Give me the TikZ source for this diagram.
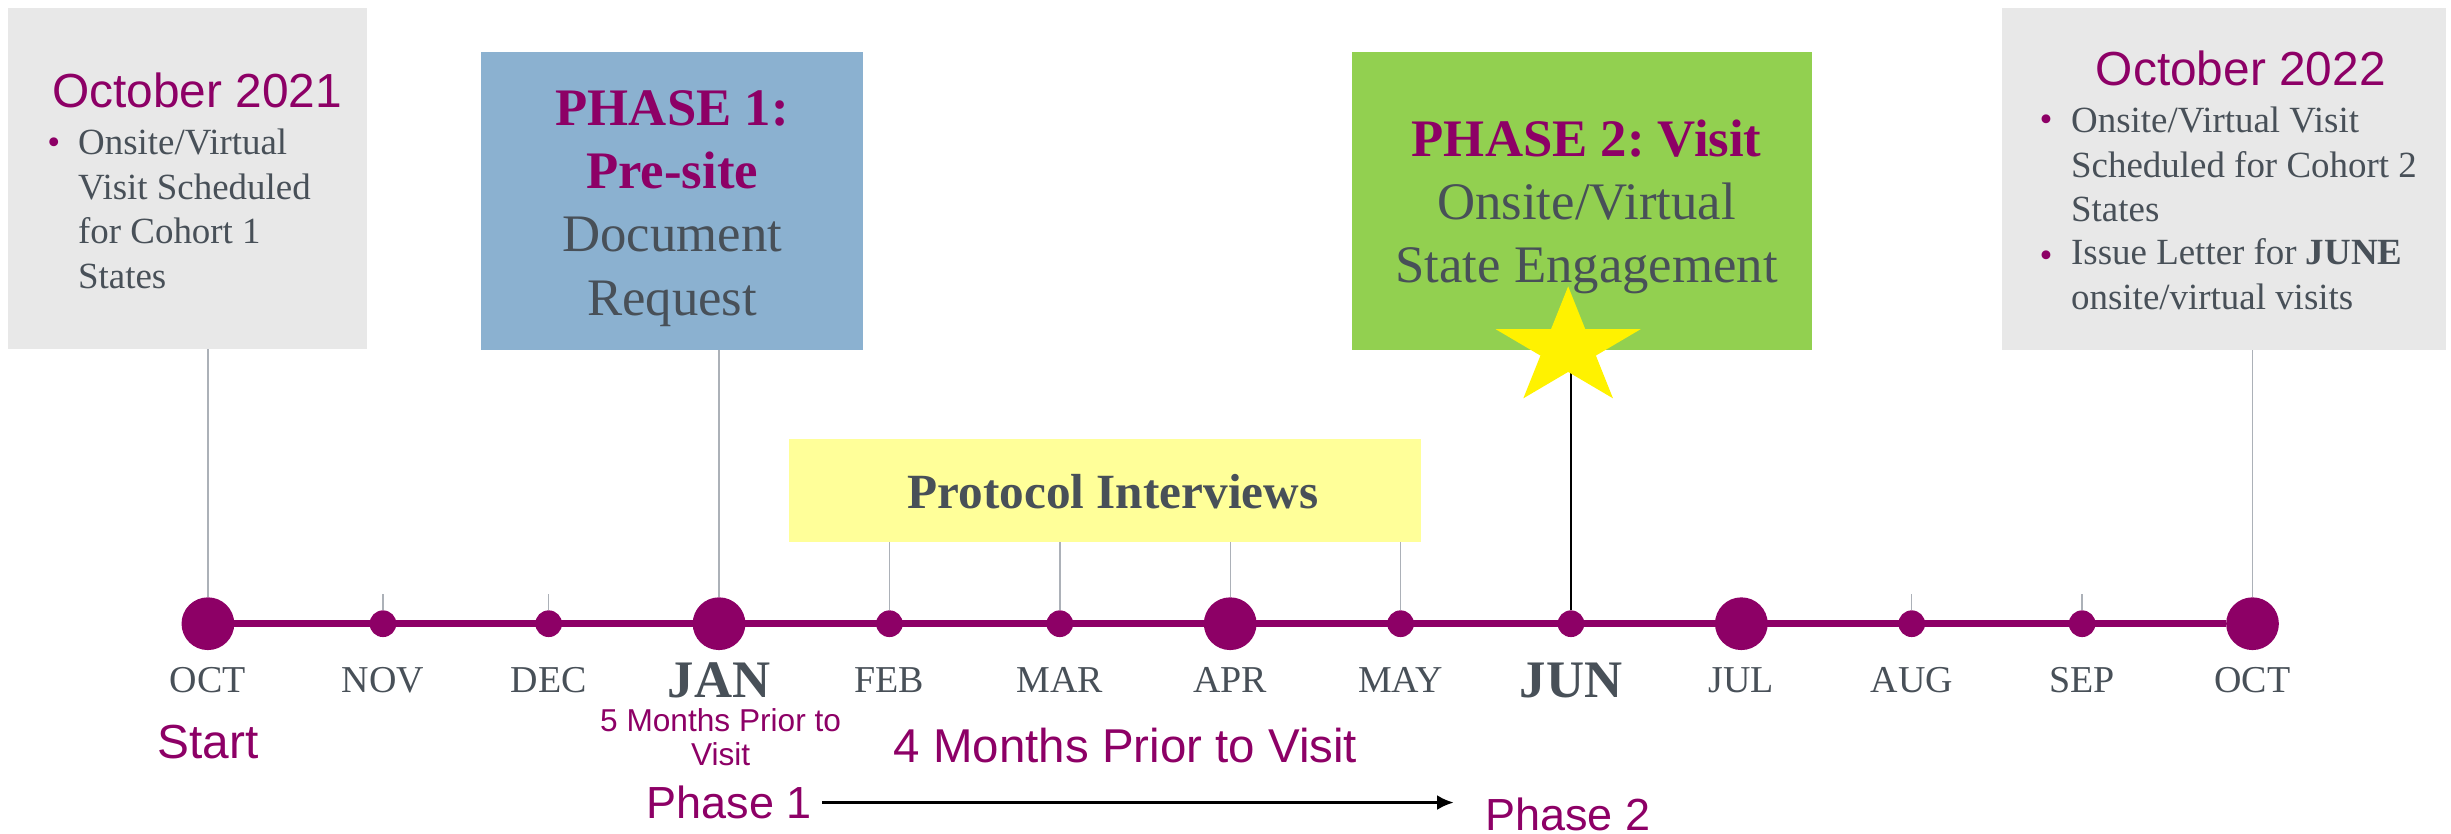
\documentclass[tikz,border=0pt]{standalone}
\usepackage[svgnames]{xcolor}
\usepackage{fontspec}
\setmainfont{Liberation Serif}
\setsansfont{Liberation Sans}
\usepackage{tikz}
\usetikzlibrary{arrows.meta,shapes.geometric}
\frenchspacing

\definecolor{Berry}{RGB}{141,0,102}
\definecolor{Slate}{RGB}{72,80,88}
\definecolor{Panel}{RGB}{232,232,232}
\definecolor{Sky}{RGB}{139,177,208}
\definecolor{Leaf}{RGB}{146,208,80}
\definecolor{Butter}{RGB}{255,255,153}
\definecolor{Rule}{RGB}{172,177,184}

\begin{document}
\begin{tikzpicture}[x=0.015625cm, y=-0.015625cm,
      every node/.append style={outer sep=0pt},
      link/.style={draw=Rule, line width=0.4pt}]
    \tikzstyle{panel} = [rectangle, inner sep=0pt]
    \tikzstyle{big dot} = [circle, fill=Berry, minimum size=15pt, inner sep=0pt]
    \tikzstyle{small dot} = [circle, fill=Berry, minimum size=7.6pt, inner sep=0pt]
    \tikzstyle{month} = [anchor=base, inner sep=0pt, text=Slate, font=\fontsize{10.8}{13}\selectfont]
    \tikzstyle{key month} = [month, font=\bfseries\fontsize{15}{18}\selectfont]
    \tikzstyle{heading} = [anchor=base, inner sep=0pt, text=Berry, font=\sffamily\fontsize{13.6}{16}\selectfont]
    \tikzstyle{bullet} = [anchor=base, inner sep=0pt, text=Berry, font=\fontsize{10.5}{12.7}\selectfont]
    \tikzstyle{item} = [anchor=base west, inner sep=0pt, align=left, text=Slate, font=\fontsize{10.5}{12.7}\selectfont]
    \tikzstyle{phase text} = [anchor=base, inner sep=0pt, align=center, text=Slate, font=\fontsize{15}{18}\selectfont]
    \tikzstyle{note} = [anchor=base, inner sep=3pt, align=center, text=Berry, font=\sffamily\fontsize{12.8}{15}\selectfont]
    \useasboundingbox (0,0) rectangle (1568,533);

    \node (oct_2021_box) [panel, fill=Panel, minimum width=102.3pt, minimum height=96.9pt] at (120,114) {};
    \node (phase_1_box) [panel, fill=Sky, minimum width=108.5pt, minimum height=84.9pt] at (430,128.5) {};
    \node (phase_2_box) [panel, fill=Leaf, minimum width=130.7pt, minimum height=84.9pt] at (1012,128.5) {};
    \node (oct_2022_box) [panel, fill=Panel, minimum width=126.3pt, minimum height=97.4pt] at (1423,114.5) {};
    \node (protocol) [panel, fill=Butter, minimum width=179.6pt, minimum height=29.3pt] at (707,314) {};

    \node (oct_2021) [heading] at (126,69) {October 2021};
    \node (oct_2021_bullet) [bullet] at (34.5,99) {•};
    \node (oct_2021_item) [item] at (50,184.5) {Onsite/Virtual\\Visit Scheduled\\for Cohort 1\\States};
    \node (oct_2022) [heading] at (1433.5,55) {October 2022};
    \node (oct_2022_bullet_a) [bullet] at (1309,84) {•};
    \node (oct_2022_item_a) [item] at (1325,142) {Onsite/Virtual Visit\\Scheduled for Cohort 2\\States};
    \node (oct_2022_bullet_b) [bullet] at (1309,171) {•};
    \node (oct_2022_item_b) [item] at (1325,198) {Issue Letter for \textbf{JUNE}\\onsite/virtual visits};
    \node (phase_1_text) [phase text] at (430,201.6) {\textbf{\color{Berry}PHASE 1:}\\\textbf{\color{Berry}Pre-site}\\Document\\Request};
    \node (phase_2_text) [phase text] at (1015,181) {\textbf{\color{Berry}PHASE 2: Visit}\\Onsite/Virtual\\State Engagement};
    \node (protocol_text) [phase text, font=\bfseries\fontsize{14}{17}\selectfont] at (712,325) {Protocol Interviews};

    \node (oct_start) [big dot] at (133,399) {};
    \node (nov) [small dot] at (245,399) {};
    \node (dec) [small dot] at (351,399) {};
    \node (jan) [big dot] at (460,399) {};
    \node (feb) [small dot] at (569,399) {};
    \node (mar) [small dot] at (678,399) {};
    \node (apr) [big dot] at (787,399) {};
    \node (may) [small dot] at (896,399) {};
    \node (jun) [small dot] at (1005,399) {};
    \node (jul) [big dot] at (1114,399) {};
    \node (aug) [small dot] at (1223,399) {};
    \node (sep) [small dot] at (1332,399) {};
    \node (oct_end) [big dot] at (1441,399) {};

    \node (oct_start_word) [month] at (133,442.7) {OCT};
    \node (nov_word) [month] at (245,442.7) {NOV};
    \node (dec_word) [month] at (351,442.7) {DEC};
    \node (jan_word) [key month] at (460,446) {JAN};
    \node (feb_word) [month] at (569,442.7) {FEB};
    \node (mar_word) [month] at (678,442.7) {MAR};
    \node (apr_word) [month] at (787,442.7) {APR};
    \node (may_word) [month] at (896,442.7) {MAY};
    \node (jun_word) [key month] at (1005,446) {JUN};
    \node (jul_word) [month] at (1114,442.7) {JUL};
    \node (aug_word) [month] at (1223,442.7) {AUG};
    \node (sep_word) [month] at (1332,442.7) {SEP};
    \node (oct_end_word) [month] at (1441,442.7) {OCT};

    \node (start) [note, inner sep=0pt, font=\sffamily\fontsize{13.6}{16}\selectfont] at (133,485) {Start};
    \node (five_months) [note, inner sep=0pt, font=\sffamily\fontsize{9}{9.6}\selectfont] at (461,489.6) {5 Months Prior to\\Visit};
    \node (four_months) [note, inner sep=0pt, font=\sffamily\fontsize{13.5}{16}\selectfont] at (720,487.5) {4 Months Prior to Visit};
    \node (phase_1) [note] at (466.5,523.7) {Phase 1};
    \node (phase_2) [note, inner sep=0pt] at (1003,531) {Phase 2};
    \coordinate (phase_arrow_end) at (930,515);

    \draw [Berry, line width=2.1pt] (oct_start) -- (oct_end);
    \draw [link] (oct_start) -- (oct_start |- oct_2021_box.south);
    \draw [link] (jan) -- (jan |- phase_1_box.south);
    \draw [link] (oct_end) -- (oct_end |- oct_2022_box.south);
    \draw [link] (feb) -- (feb |- protocol.south);
    \draw [link] (mar) -- (mar |- protocol.south);
    \draw [link] (apr) -- (apr |- protocol.south);
    \draw [link] (may) -- (may |- protocol.south);
    \draw [link] (nov) -- ++(0,-19);
    \draw [link] (dec) -- ++(0,-19);
    \draw [link] (aug) -- ++(0,-19);
    \draw [link] (sep) -- ++(0,-19);
    \draw [black, line width=0.45pt] (jun) -- (jun |- phase_2_box.south);
    \node (visit_star) [star, star points=5, star point ratio=2.618, fill=yellow, minimum size=35.2pt, inner sep=0pt, xscale=1.233] at (1003.2,222.8) {};
    \draw [-{Latex[length=4.7pt,width=4.2pt]}, black, line width=0.8pt] (phase_1) -- (phase_1 -| phase_arrow_end);
\end{tikzpicture}
\end{document}
